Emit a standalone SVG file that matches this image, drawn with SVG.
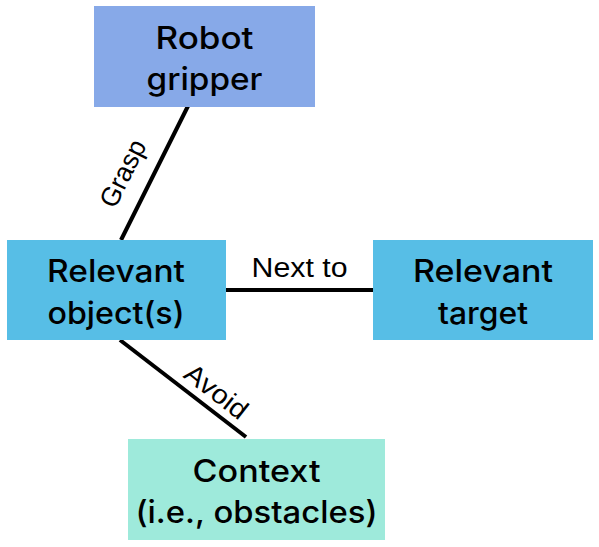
<svg xmlns="http://www.w3.org/2000/svg" width="599" height="547" viewBox="0 0 599 547">
<style>
.node-text{font-family:Inter,"Liberation Sans",Arial,sans-serif;font-weight:500;font-size:31px;fill:#000;text-anchor:middle}
.label{font-family:"Liberation Sans",Arial,sans-serif;font-size:27px;fill:#000;text-anchor:middle}
.edge{stroke:#000;stroke-width:4;fill:none}
</style>
<rect width="599" height="547" fill="#fff"/>
<g id="connectors">
<line class="edge" x1="188" y1="106" x2="121" y2="240"/>
<line class="edge" x1="226" y1="290" x2="373" y2="290"/>
<line class="edge" x1="120" y1="340" x2="246" y2="437"/>
<text class="label" transform="translate(131,177.5) rotate(-63.4)" textLength="72" lengthAdjust="spacingAndGlyphs">Grasp</text>
<text class="label" x="299.5" y="277" textLength="96" lengthAdjust="spacingAndGlyphs">Next to</text>
<text class="label" transform="translate(210.8,398.7) rotate(37.8)" textLength="72" lengthAdjust="spacingAndGlyphs">Avoid</text>
</g>
<g id="robot-gripper">
<rect x="94" y="6" width="221" height="101" fill="#87A9E8"/>
<text class="node-text" x="204.5" y="48.5" textLength="98" lengthAdjust="spacingAndGlyphs">Robot</text>
<text class="node-text" x="204.5" y="90" textLength="116" lengthAdjust="spacingAndGlyphs">gripper</text>
</g>
<g id="relevant-objects">
<rect x="7" y="240" width="219" height="100" fill="#57BEE6"/>
<text class="node-text" x="116" y="282" textLength="138" lengthAdjust="spacingAndGlyphs">Relevant</text>
<text class="node-text" x="116" y="323.5" textLength="137" lengthAdjust="spacingAndGlyphs">object(s)</text>
</g>
<g id="relevant-target">
<rect x="373" y="240" width="220" height="100" fill="#57BEE6"/>
<text class="node-text" x="483" y="282" textLength="140" lengthAdjust="spacingAndGlyphs">Relevant</text>
<text class="node-text" x="483" y="323.5" textLength="90" lengthAdjust="spacingAndGlyphs">target</text>
</g>
<g id="context">
<rect x="128" y="439" width="257" height="101" fill="#9EEADB"/>
<text class="node-text" x="256.5" y="481.5" textLength="128" lengthAdjust="spacingAndGlyphs">Context</text>
<text class="node-text" x="256.5" y="523" textLength="242" lengthAdjust="spacingAndGlyphs">(i.e., obstacles)</text>
</g>
</svg>
